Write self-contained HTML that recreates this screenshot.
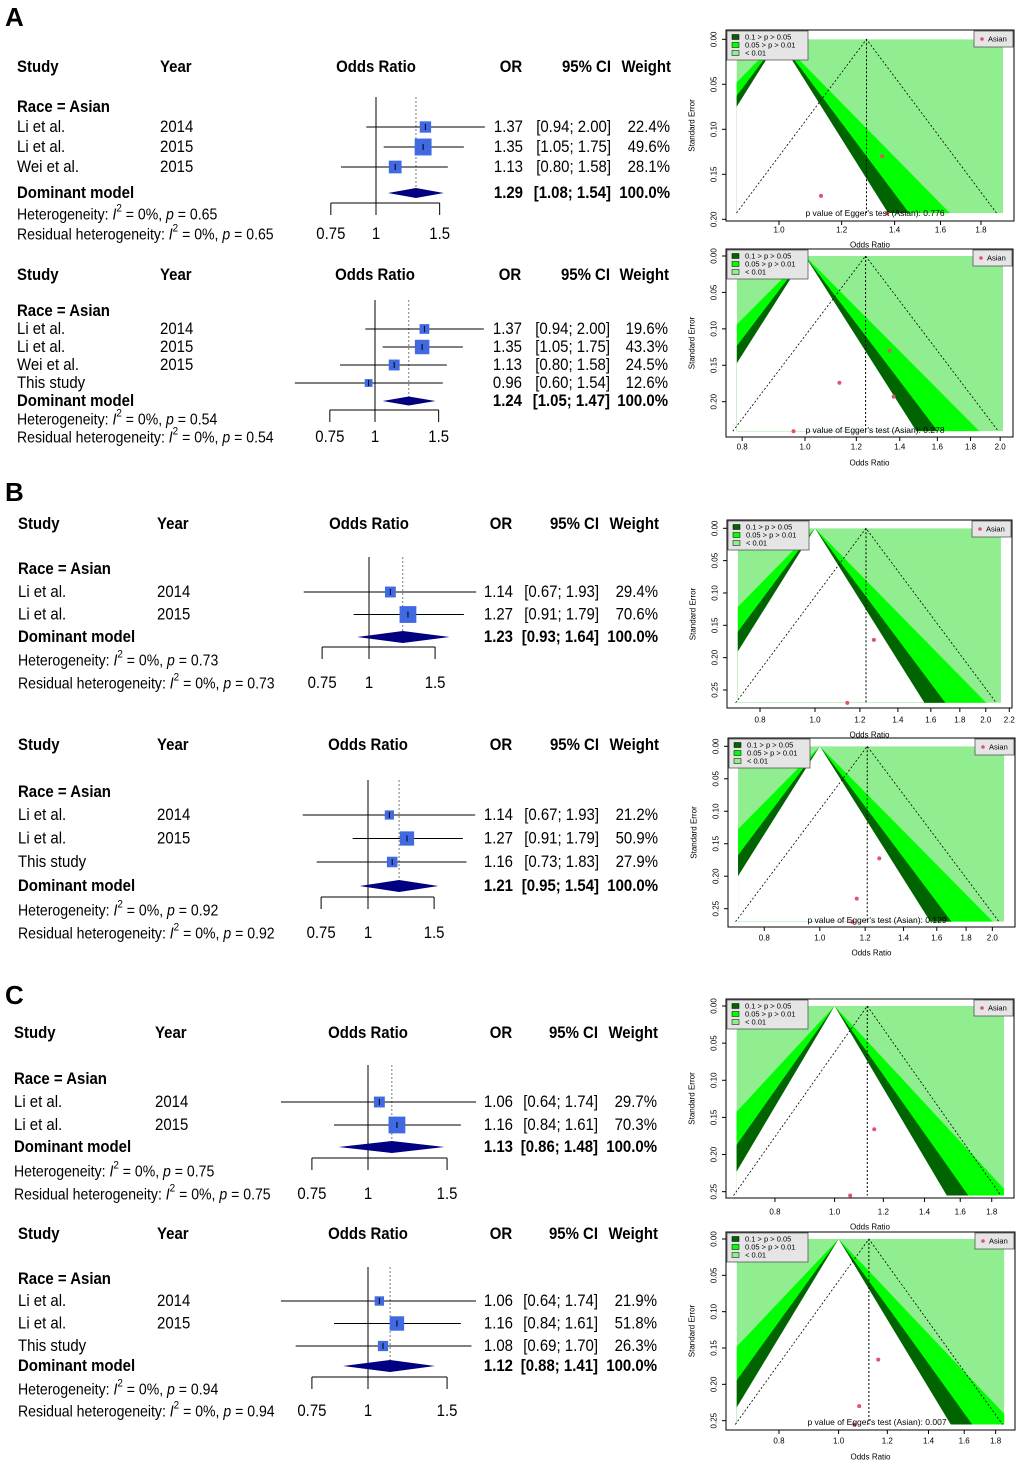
<!DOCTYPE html>
<html><head><meta charset="utf-8"><title>Forest and funnel plots</title>
<style>
html,body{margin:0;padding:0;background:#fff;}
svg{display:block;}
text{font-family:"Liberation Sans",sans-serif;fill:#000;}
</style></head>
<body>
<svg id="fig" xmlns="http://www.w3.org/2000/svg" width="1020" height="1464" viewBox="0 0 1020 1464">
<defs></defs>
</svg>
<script>
// ---------- Forest data ----------
const A1_study=["Li et al.","Li et al.","Wei et al."];
const A1_year=["2014","2015","2015"];
const A1_or=[1.37,1.35,1.13];
const A1_lo=[0.94,1.05,0.80];
const A1_hi=[2.00,1.75,1.58];
const A1_w=[22.4,49.6,28.1];
const A1_pool=[1.29,1.08,1.54];
const A1_hetP=0.65;

const A2_study=["Li et al.","Li et al.","Wei et al.","This study"];
const A2_year=["2014","2015","2015",""];
const A2_or=[1.37,1.35,1.13,0.96];
const A2_lo=[0.94,1.05,0.80,0.60];
const A2_hi=[2.00,1.75,1.58,1.54];
const A2_w=[19.6,43.3,24.5,12.6];
const A2_pool=[1.24,1.05,1.47];
const A2_hetP=0.54;

const B1_study=["Li et al.","Li et al."];
const B1_year=["2014","2015"];
const B1_or=[1.14,1.27];
const B1_lo=[0.67,0.91];
const B1_hi=[1.93,1.79];
const B1_w=[29.4,70.6];
const B1_pool=[1.23,0.93,1.64];
const B1_hetP=0.73;

const B2_study=["Li et al.","Li et al.","This study"];
const B2_year=["2014","2015",""];
const B2_or=[1.14,1.27,1.16];
const B2_lo=[0.67,0.91,0.73];
const B2_hi=[1.93,1.79,1.83];
const B2_w=[21.2,50.9,27.9];
const B2_pool=[1.21,0.95,1.54];
const B2_hetP=0.92;

const C1_study=["Li et al.","Li et al."];
const C1_year=["2014","2015"];
const C1_or=[1.06,1.16];
const C1_lo=[0.64,0.84];
const C1_hi=[1.74,1.61];
const C1_w=[29.7,70.3];
const C1_pool=[1.13,0.86,1.48];
const C1_hetP=0.75;

const C2_study=["Li et al.","Li et al.","This study"];
const C2_year=["2014","2015",""];
const C2_or=[1.06,1.16,1.08];
const C2_lo=[0.64,0.84,0.69];
const C2_hi=[1.74,1.61,1.70];
const C2_w=[21.9,51.8,26.3];
const C2_pool=[1.12,0.88,1.41];
const C2_hetP=0.94;

const forestTicks=[0.75,1,1.5];
const forestTickLabels=["0.75","1","1.5"];

// ---------- Funnel data ----------
const FA1_or=[1.37,1.35,1.13];
const FA1_se=[0.193,0.130,0.174];
const FA2_or=[1.37,1.35,1.13,0.96];
const FA2_se=[0.193,0.130,0.174,0.2405];
const FB1_or=[1.14,1.27];
const FB1_se=[0.270,0.1726];
const FB2_or=[1.14,1.27,1.16];
const FB2_se=[0.270,0.1726,0.2344];
const FC1_or=[1.06,1.16];
const FC1_se=[0.2552,0.166];
const FC2_or=[1.06,1.16,1.08];
const FC2_se=[0.2552,0.166,0.230];
const FA_xt=[1.0,1.2,1.4,1.6,1.8];
const FA2_xt=[0.8,1.0,1.2,1.4,1.6,1.8,2.0];
const FB1_xt=[0.8,1.0,1.2,1.4,1.6,1.8,2.0,2.2];
const FB2_xt=[0.8,1.0,1.2,1.4,1.6,1.8,2.0];
const FC_xt=[0.8,1.0,1.2,1.4,1.6,1.8];
const FA1_yt=[0,0.05,0.10,0.15,0.20];
const FA2_yt=[0,0.05,0.10,0.15,0.20];
const FB_yt=[0,0.05,0.10,0.15,0.20,0.25];
const FC_yt=[0,0.05,0.10,0.15,0.20,0.25];

const NS="http://www.w3.org/2000/svg";
const svg=document.getElementById('fig');
const SX=0.88;

function mk(tag,attrs,name,parent){
  const e=document.createElementNS(NS,tag);
  for(const k in attrs) e.setAttribute(k,attrs[k]);
  
  
  (parent||svg).appendChild(e);
  return e;
}
function txt(x,y,s,name,o,parent){
  o=o||{};
  const t=mk('text',{transform:`translate(${x},${y}) scale(${o.sx||SX},1)`,x:0,y:0,
    'font-size':o.fs||15,'font-weight':o.bold?'bold':'normal',
    'text-anchor':o.anchor||'start','dominant-baseline':'central'},name,parent);
  if(o.rot) t.setAttribute('transform',`translate(${x},${y}) rotate(-90)`);
  t.textContent=s;
  return t;
}
function hetText(x,y,prefix,p,fs,name){
  const t=mk('text',{transform:`translate(${x},${y}) scale(${SX},1)`,x:0,y:0,'font-size':fs,'dominant-baseline':'central'},name);
  const parts=[[prefix,{}],["I",{'font-style':'italic'}],["2",{'font-size':fs*0.7,dy:-fs*0.35}],[" = 0%, ",{dy:fs*0.35}],["p",{'font-style':'italic'}],[" = "+p.toFixed(2),{}]];
  parts.forEach(([s,a])=>{const ts=document.createElementNS(NS,'tspan');for(const k in a) ts.setAttribute(k,a[k]);ts.textContent=s;t.appendChild(ts);});
}

function forest(d,c){
  const X=v=>c.x1+c.k*Math.log(v);
  const fs=c.fs;
  txt(c.studyX,c.hdr,"Study",'study-header',{fs,bold:1});
  txt(c.yearX,c.hdr,"Year",'year-header',{fs,bold:1});
  txt(c.x1,c.hdr,"Odds Ratio",'odds-ratio-header',{fs,bold:1,anchor:'middle'});
  txt(c.orR-12,c.hdr,"OR",'or-header',{fs,bold:1,anchor:'middle'});
  txt(c.ciR,c.hdr,"95% CI",'ci-header',{fs,bold:1,anchor:'end'});
  txt(c.wR+1,c.hdr,"Weight",'weight-header',{fs,bold:1,anchor:'end'});
  txt(c.studyX,c.race,"Race = Asian",'subgroup-label',{fs,bold:1});
  mk('line',{x1:X(1),x2:X(1),y1:c.refTop,y2:c.axisY+12,stroke:'#000','stroke-width':1},'null-effect-line');
  mk('line',{x1:X(d.pool[0]),x2:X(d.pool[0]),y1:c.refTop,y2:c.dom,stroke:'#777','stroke-width':1,'stroke-dasharray':'2,2'},'pooled-effect-line');
  d.or.forEach((v,i)=>{
    const y=c.row0+i*c.step;
    txt(c.studyX,y,d.study[i],'study-name',{fs});
    if(d.year[i]) txt(c.yearX,y,d.year[i],'study-year',{fs});
    mk('line',{x1:X(d.lo[i]),x2:X(d.hi[i]),y1:y,y2:y,stroke:'#000','stroke-width':1},'ci-line');
    const s=c.boxK*Math.sqrt(d.w[i]);
    mk('rect',{x:X(v)-s/2,y:y-s/2,width:s,height:s,fill:'#4169e1'},'study-box');
    mk('line',{x1:X(v),x2:X(v),y1:y-3,y2:y+3,stroke:'#000','stroke-width':1},'point-estimate');
    txt(c.orR,y,v.toFixed(2),'or-value',{fs,anchor:'end'});
    txt(c.ciR,y,`[${d.lo[i].toFixed(2)}; ${d.hi[i].toFixed(2)}]`,'ci-value',{fs,anchor:'end'});
    txt(c.wR,y,d.w[i].toFixed(1)+"%",'weight-value',{fs,anchor:'end'});
  });
  const y=c.dom,h=c.dh/2;
  txt(c.studyX,y,"Dominant model",'pooled-label',{fs,bold:1});
  mk('polygon',{points:`${X(d.pool[1])},${y} ${X(d.pool[0])},${y-h} ${X(d.pool[2])},${y} ${X(d.pool[0])},${y+h}`,fill:'#000080'},'pooled-diamond');
  txt(c.orR,y,d.pool[0].toFixed(2),'pooled-or',{fs,bold:1,anchor:'end'});
  txt(c.ciR,y,`[${d.pool[1].toFixed(2)}; ${d.pool[2].toFixed(2)}]`,'pooled-ci',{fs,bold:1,anchor:'end'});
  txt(c.wR,y,"100.0%",'pooled-weight',{fs,bold:1,anchor:'end'});
  hetText(c.studyX,c.het,"Heterogeneity: ",d.hetP,fs-1,'heterogeneity-text');
  hetText(c.studyX,c.res,"Residual heterogeneity: ",d.hetP,fs-1,'residual-heterogeneity-text');
  mk('line',{x1:X(forestTicks[0]),x2:X(forestTicks[forestTicks.length-1]),y1:c.axisY,y2:c.axisY,stroke:'#000'},'x-axis');
  forestTicks.forEach((t,i)=>{
    mk('line',{x1:X(t),x2:X(t),y1:c.axisY,y2:c.axisY+12,stroke:'#000'},'x-tick');
    txt(X(t),c.res,forestTickLabels[i],'x-tick-label',{fs,anchor:'middle'});
  });
}

let clipId=0;
function funnel(d,c){
  const X=v=>c.x0+c.k*Math.log(v);
  const Y=s=>c.y0+c.kse*s;
  const seMax=Math.max(...d.se);
  const xl=X(c.xmin),xr=X(c.xmax),yt=Y(0),yb=Y(seMax);
  const id='clip'+(clipId++);
  const cp=mk('clipPath',{id},'clip',svg.querySelector('defs'));
  mk('rect',{x:xl,y:yt,width:xr-xl,height:yb-yt},'clip-rect',cp);
  const g=mk('g',{'clip-path':`url(#${id})`},'contour-regions');
  mk('rect',{x:xl,y:yt,width:xr-xl,height:yb-yt,fill:'#90ee90'},'region-p-lt-001',g);
  [[2.576,'#00ff00','region-p-001-005'],[1.96,'#006400','region-p-005-01'],[1.645,'#ffffff','region-nonsig']].forEach(([z,col,nm])=>{
    mk('polygon',{points:`${c.x0+c.k*(-z*seMax)},${yb} ${c.x0},${yt} ${c.x0+c.k*(z*seMax)},${yb}`,fill:col},nm,g);
  });
  const lp=Math.log(c.pool);
  mk('line',{x1:X(c.pool),x2:X(c.pool),y1:yt,y2:yb,stroke:'#000','stroke-dasharray':'2,2','stroke-width':1},'pooled-estimate-line');
  mk('polyline',{points:`${c.x0+c.k*(lp-1.96*seMax)},${yb} ${X(c.pool)},${yt} ${c.x0+c.k*(lp+1.96*seMax)},${yb}`,fill:'none',stroke:'#000','stroke-dasharray':'2,2','stroke-width':0.8},'pseudo-ci-lines');
  d.or.forEach((v,i)=>{mk('circle',{cx:X(v),cy:Y(d.se[i]),r:2,fill:'#df536b'},'study-point');});
  mk('rect',{x:c.L,y:c.T,width:c.R-c.L,height:c.B-c.T,fill:'none',stroke:'#000','stroke-width':1},'plot-frame');
  c.xt.forEach(t=>{
    mk('line',{x1:X(t),x2:X(t),y1:c.B,y2:c.B+4,stroke:'#000'},'x-tick');
    txt(X(t),c.xlab,t.toFixed(1),'x-tick-label',{fs:8,sx:1,anchor:'middle'});
  });
  c.yt.forEach(t=>{
    mk('line',{x1:c.L-4,x2:c.L,y1:Y(t),y2:Y(t),stroke:'#000'},'y-tick');
    txt(c.L-12,Y(t),t.toFixed(2),'y-tick-label',{fs:8,anchor:'middle',rot:1});
  });
  txt((c.L+c.R)/2,c.xtitle,"Odds Ratio",'x-axis-title',{fs:8,sx:1,anchor:'middle'});
  txt(c.L-34,(c.T+c.B)/2,"Standard Error",'y-axis-title',{fs:8,anchor:'middle',rot:1});
  const lg=mk('g',{},'contour-legend');
  mk('rect',{x:c.L+1,y:c.T+1,width:81,height:29,fill:'#e5e5e5',stroke:'#555','stroke-width':0.8},'legend-box',lg);
  [['#006400','0.1 > p > 0.05'],['#00ff00','0.05 > p > 0.01'],['#90ee90','< 0.01']].forEach(([col,s],i)=>{
    mk('rect',{x:c.L+6,y:c.T+4.5+i*8,width:7,height:5,fill:col,stroke:'#000','stroke-width':0.5},'legend-swatch',lg);
    txt(c.L+19,c.T+7+i*8,s,'legend-label',{fs:7.5,sx:1},lg);
  });
  mk('rect',{x:c.R-40,y:c.T+1,width:39,height:16,fill:'#e5e5e5',stroke:'#555','stroke-width':0.8},'asian-legend-box');
  mk('circle',{cx:c.R-32,cy:c.T+9,r:1.8,fill:'#df536b'},'asian-legend-marker');
  txt(c.R-26,c.T+9,"Asian",'asian-legend-label',{fs:7.5,sx:1});
  if(c.egger) txt(c.eggX,c.eggY,"p value of Egger's test (Asian): "+c.egger,'egger-text',{fs:8.5,sx:1,anchor:'middle'});
}

txt(5,17,"A",'panel-label-a',{fs:26,bold:1,sx:1});
txt(5,492,"B",'panel-label-b',{fs:26,bold:1,sx:1});
txt(5,995,"C",'panel-label-c',{fs:26,bold:1,sx:1});

forest({study:A1_study,year:A1_year,or:A1_or,lo:A1_lo,hi:A1_hi,w:A1_w,pool:A1_pool,hetP:A1_hetP},
 {fs:17,studyX:17,yearX:160,x1:376,k:157,orR:523,ciR:611,wR:670,hdr:67,race:107,row0:127,step:20,dom:193,dh:10,het:214,res:234,axisY:203,refTop:97,boxK:2.4});
forest({study:A2_study,year:A2_year,or:A2_or,lo:A2_lo,hi:A2_hi,w:A2_w,pool:A2_pool,hetP:A2_hetP},
 {fs:17,studyX:17,yearX:160,x1:375,k:157,orR:522,ciR:610,wR:668,hdr:275,race:311,row0:329,step:18,dom:401,dh:9,het:419,res:437,axisY:410,refTop:300,boxK:2.2});
forest({study:B1_study,year:B1_year,or:B1_or,lo:B1_lo,hi:B1_hi,w:B1_w,pool:B1_pool,hetP:B1_hetP},
 {fs:17,studyX:18,yearX:157,x1:369,k:163,orR:513,ciR:599,wR:658,hdr:524,race:569,row0:592,step:22.5,dom:637,dh:12,het:660,res:683,axisY:647,refTop:557,boxK:2.0});
forest({study:B2_study,year:B2_year,or:B2_or,lo:B2_lo,hi:B2_hi,w:B2_w,pool:B2_pool,hetP:B2_hetP},
 {fs:17,studyX:18,yearX:157,x1:368,k:163,orR:513,ciR:599,wR:658,hdr:745,race:792,row0:815,step:23.5,dom:886,dh:12,het:910,res:933,axisY:897,refTop:780,boxK:2.0});
forest({study:C1_study,year:C1_year,or:C1_or,lo:C1_lo,hi:C1_hi,w:C1_w,pool:C1_pool,hetP:C1_hetP},
 {fs:17,studyX:14,yearX:155,x1:368,k:195,orR:513,ciR:598,wR:657,hdr:1033,race:1079,row0:1102,step:23,dom:1147,dh:12,het:1171,res:1194,axisY:1158,refTop:1065,boxK:2.0});
forest({study:C2_study,year:C2_year,or:C2_or,lo:C2_lo,hi:C2_hi,w:C2_w,pool:C2_pool,hetP:C2_hetP},
 {fs:17,studyX:18,yearX:157,x1:368,k:195,orR:513,ciR:598,wR:657,hdr:1234,race:1279,row0:1301,step:22.5,dom:1366,dh:12,het:1389,res:1411,axisY:1377,refTop:1267,boxK:2.0});

funnel({or:FA1_or,se:FA1_se},{x0:779,k:343.6,y0:39.3,kse:900,xmin:0.884,xmax:1.92,pool:1.29,L:726,R:1014,T:30,B:221,xt:FA_xt,yt:FA1_yt,xlab:230,xtitle:245,egger:"0.776",eggX:875,eggY:213});
funnel({or:FA2_or,se:FA2_se},{x0:805,k:281.6,y0:256,kse:728.5,xmin:0.785,xmax:2.02,pool:1.24,L:726,R:1013,T:249,B:437,xt:FA2_xt,yt:FA2_yt,xlab:447,xtitle:463,egger:"0.278",eggX:875,eggY:430});
funnel({or:FB1_or,se:FB1_se},{x0:815,k:246.4,y0:528.3,kse:646.7,xmin:0.731,xmax:2.127,pool:1.23,L:727,R:1012,T:520,B:708,xt:FB1_xt,yt:FB_yt,xlab:720,xtitle:735,egger:null});
funnel({or:FB2_or,se:FB2_se},{x0:819.8,k:248.9,y0:746.3,kse:649.6,xmin:0.72,xmax:2.097,pool:1.21,L:728,R:1015,T:738,B:927,xt:FB2_xt,yt:FB_yt,xlab:938,xtitle:953,egger:"0.129",eggX:877,eggY:920});
funnel({or:FC1_or,se:FC1_se},{x0:834.6,k:267.3,y0:1006,kse:742.7,xmin:0.693,xmax:1.885,pool:1.13,L:726,R:1014,T:999,B:1198,xt:FC_xt,yt:FC_yt,xlab:1212,xtitle:1227,egger:null});
funnel({or:FC2_or,se:FC2_se},{x0:838.6,k:267.2,y0:1239,kse:726.7,xmin:0.683,xmax:1.859,pool:1.12,L:726,R:1015,T:1232,B:1430,xt:FC_xt,yt:FC_yt,xlab:1441,xtitle:1457,egger:"0.007",eggX:877,eggY:1422});
</script>
</body></html>
